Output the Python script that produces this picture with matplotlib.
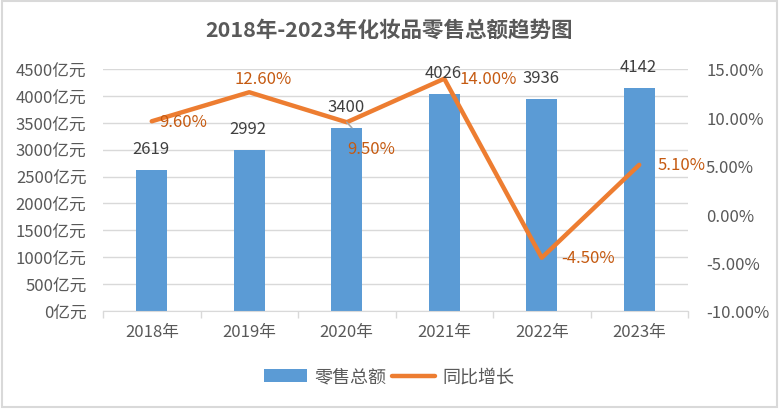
import matplotlib.pyplot as plt
from matplotlib.patches import Rectangle
import numpy as np

plt.rcParams['font.family'] = ['Noto Sans CJK SC', 'DejaVu Sans']

# data
years = ['2018年', '2019年', '2020年', '2021年', '2022年', '2023年']
sales = [2619, 2992, 3400, 4026, 3936, 4142]
growth = [9.6, 12.6, 9.5, 14.0, -4.5, 5.1]

bar_col = '#5B9BD5'
line_col = '#ED7D31'
lab_col = '#C55A11'
txt_col = '#595959'
grid_col = '#D9D9D9'

fig = plt.figure(figsize=(7.79, 4.10), dpi=100)
fig.patches.append(Rectangle((0.003, 0.005), 0.994, 0.99, transform=fig.transFigure,
                             fill=False, edgecolor='#D9D9D9', linewidth=1.5))
ax = fig.add_axes([103 / 779, 1 - 312 / 410, (688 - 103) / 779, (312 - 70) / 410])
ax2 = ax.twinx()

x = np.arange(len(years))
bars = ax.bar(x, sales, width=0.32, color=bar_col, zorder=2, label='零售总额')
ax.set_xlim(-0.5, len(years) - 0.5)
ax.set_ylim(0, 4500)
ax.set_yticks(np.arange(0, 4501, 500))
ax.set_yticklabels(['%d亿元' % v for v in np.arange(0, 4501, 500)])
ax.grid(axis='y', color=grid_col, linewidth=1, zorder=0)
ax.set_axisbelow(True)

ax.set_xticks(x)
ax.set_xticklabels(years)
ax.set_xticks(np.arange(-0.5, len(years)), minor=True)
ax.tick_params(axis='x', which='major', length=0, pad=9, labelsize=12, labelcolor=txt_col)
ax.tick_params(axis='x', which='minor', length=5, color=grid_col, width=1)
ax.tick_params(axis='y', length=0, pad=12, labelsize=12, labelcolor=txt_col)

for s in ['top', 'right', 'left']:
    ax.spines[s].set_visible(False)
    ax2.spines[s].set_visible(False)
ax.spines['bottom'].set_color(grid_col)
ax2.spines['bottom'].set_visible(False)

ln, = ax2.plot(x, growth, color=line_col, linewidth=3.2, solid_capstyle='round', zorder=3,
               label='同比增长')
ax2.set_ylim(-10, 15)
ax2.set_yticks(np.arange(-10, 15.1, 5))
ax2.set_yticklabels(['%.2f%%' % v for v in np.arange(-10, 15.1, 5)])
ax2.tick_params(axis='y', length=0, pad=13, labelsize=12, labelcolor=txt_col)

# bar value labels, drawn on top of the line
for xi, v in zip(x, sales):
    ax2.annotate(str(v), xy=(xi, v), xycoords=ax.transData, xytext=(-1, 22),
                 textcoords='offset pixels', ha='center', va='center', fontsize=12,
                 color='#404040', zorder=6)

# percentage labels (offsets in pixels)
offs = [(8, 0, 'left'), (14, 14, 'center'), (0, 0, 'center'),
        (15, 0, 'left'), (19, 0, 'left'), (18, 0, 'left')]
for i, (g, o) in enumerate(zip(growth, offs)):
    if i == 2:
        ax2.annotate('%.2f%%' % g, xy=(x[i], g), xytext=(24, -26), textcoords='offset pixels',
                     ha='center', va='center', fontsize=12, color=lab_col, zorder=6,
                     arrowprops=dict(arrowstyle='-', color='#A6A6A6', lw=1.2,
                                     shrinkA=9, shrinkB=0))
    else:
        ax2.annotate('%.2f%%' % g, xy=(x[i], g), xytext=(o[0], o[1]), textcoords='offset pixels',
                     ha=o[2], va='center', fontsize=12, color=lab_col, zorder=6)

fig.text(0.5, 1 - 30 / 410, '2018年-2023年化妆品零售总额趋势图', ha='center', va='center',
         fontsize=15.5, fontweight='bold', color=txt_col)

fig.legend(handles=[bars, ln], loc='center', bbox_to_anchor=(389 / 779, 1 - 378 / 410), ncol=2,
           frameon=False, fontsize=13, labelcolor=txt_col, handlelength=2.4, columnspacing=0.3,
           handletextpad=0.4)

fig.savefig('out.png', dpi=100)
